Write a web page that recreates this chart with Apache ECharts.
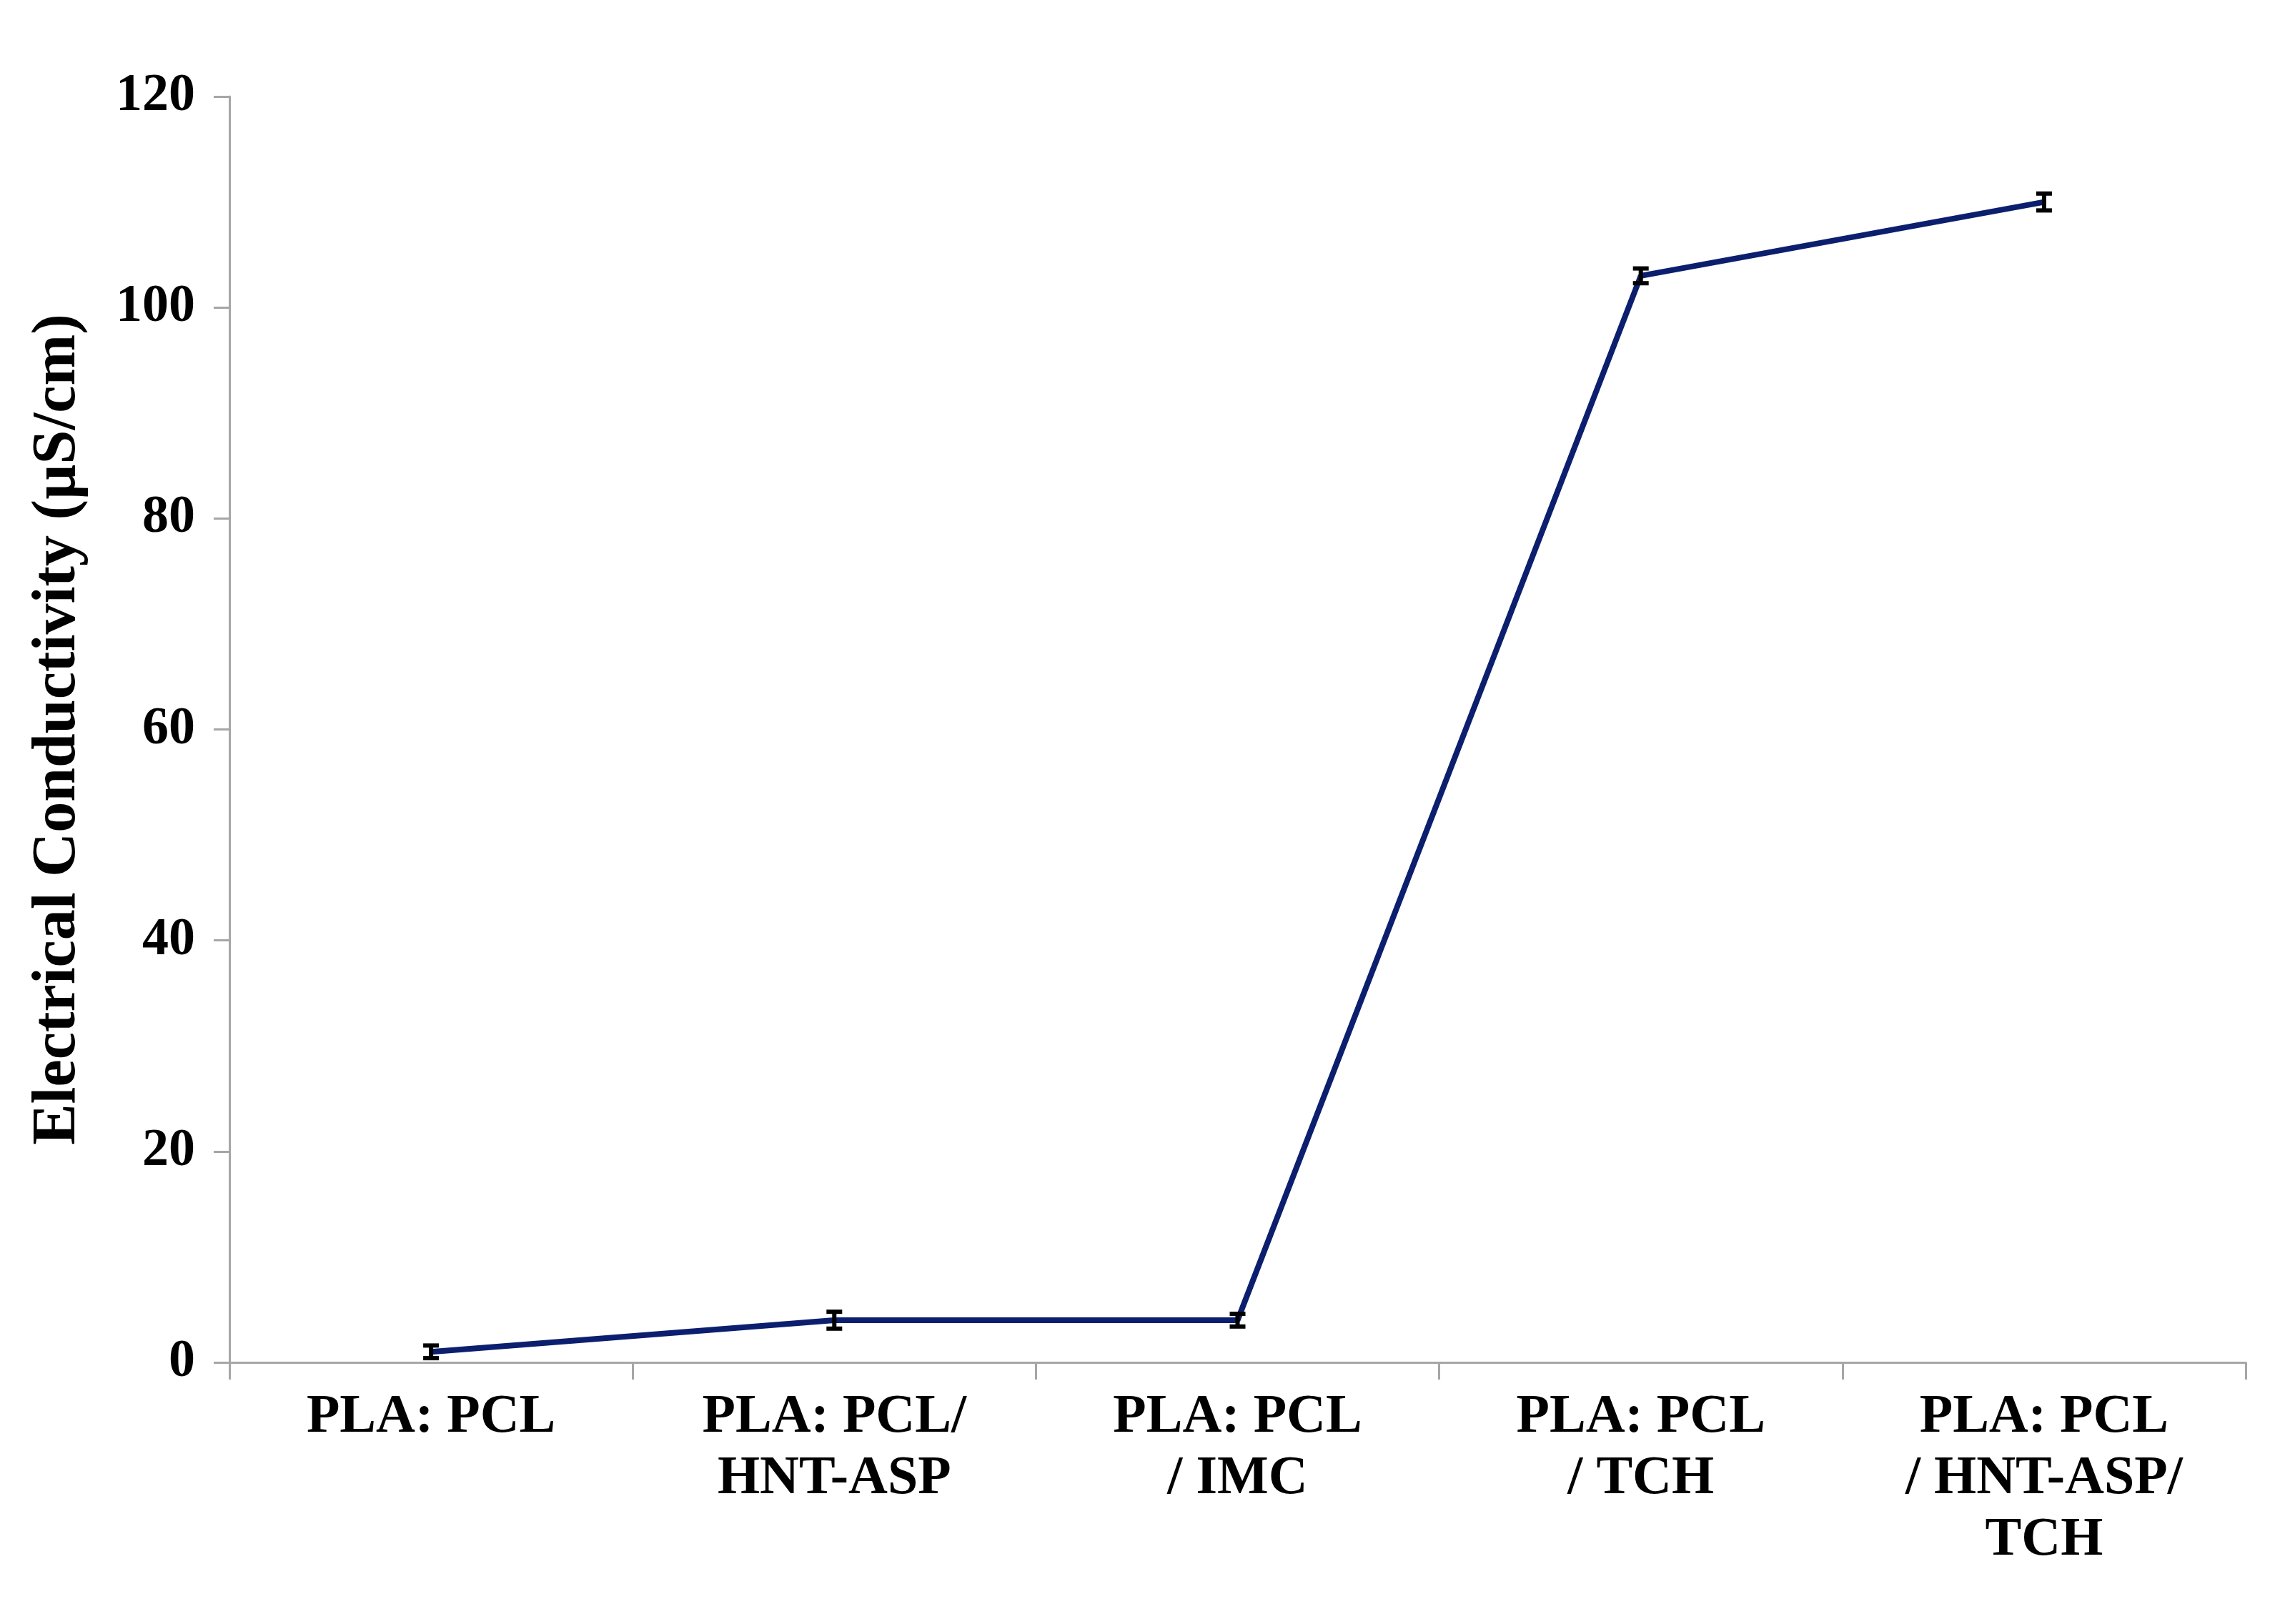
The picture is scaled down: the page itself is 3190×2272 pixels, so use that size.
<!DOCTYPE html>
<html><head><meta charset="utf-8">
<script src="https://cdn.jsdelivr.net/npm/echarts@6/dist/echarts.min.js"></script>
<style>html,body{margin:0;padding:0;background:#fff}#c{width:3190px;height:2272px}</style>
</head><body><div id="c"></div>
<script>
const categories = ['PLA: PCL', 'PLA: PCL/\nHNT-ASP', 'PLA: PCL\n/ IMC', 'PLA: PCL\n/ TCH', 'PLA: PCL\n/ HNT-ASP/\nTCH'];
const values = [1, 4, 4, 103, 110];
const errors = [0.6, 0.8, 0.6, 0.7, 0.8];
const font = '"Liberation Serif", "Times New Roman", serif';
const chart = echarts.init(document.getElementById('c'));
chart.setOption({
  animation: false,
  backgroundColor: '#fff',
  grid: { left: 321, right: 48, top: 135, bottom: 366 },
  xAxis: {
    type: 'category', data: categories, boundaryGap: true,
    axisLine: { lineStyle: { color: '#a6a6a6', width: 3 } },
    axisTick: { show: true, length: 24, lineStyle: { color: '#a6a6a6', width: 3 } },
    axisLabel: { margin: 34, color: '#000', fontFamily: font, fontWeight: 'bold', fontSize: 76, lineHeight: 86, interval: 0 }
  },
  yAxis: {
    type: 'value', min: 0, max: 120, interval: 20,
    name: 'Electrical Conductivity (µS/cm)', nameLocation: 'middle', nameGap: 196, nameRotate: 90,
    nameTextStyle: { color: '#000', fontFamily: font, fontWeight: 'bold', fontSize: 86 },
    axisLine: { show: true, lineStyle: { color: '#a6a6a6', width: 3 } },
    axisTick: { show: true, length: 22, lineStyle: { color: '#a6a6a6', width: 3 } },
    splitLine: { show: false },
    axisLabel: { margin: 48, color: '#000', fontFamily: font, fontWeight: 'bold', fontSize: 74 }
  },
  series: [
    { type: 'line', data: values, symbol: 'none', lineStyle: { color: '#0c1f6e', width: 8 }, z: 2 },
    { type: 'custom', z: 3,
      data: values.map((v, i) => [i, v - errors[i], v + errors[i]]),
      renderItem: (params, api) => {
        const lo = api.coord([api.value(0), api.value(1)]);
        const hi = api.coord([api.value(0), api.value(2)]);
        const w = 11;
        const st = { stroke: '#000', lineWidth: 6 };
        return { type: 'group', children: [
          { type: 'line', shape: { x1: lo[0], y1: lo[1], x2: hi[0], y2: hi[1] }, style: st },
          { type: 'line', shape: { x1: lo[0]-w, y1: lo[1], x2: lo[0]+w, y2: lo[1] }, style: st },
          { type: 'line', shape: { x1: hi[0]-w, y1: hi[1], x2: hi[0]+w, y2: hi[1] }, style: st }
        ]};
      }
    }
  ]
});
</script></body></html>
